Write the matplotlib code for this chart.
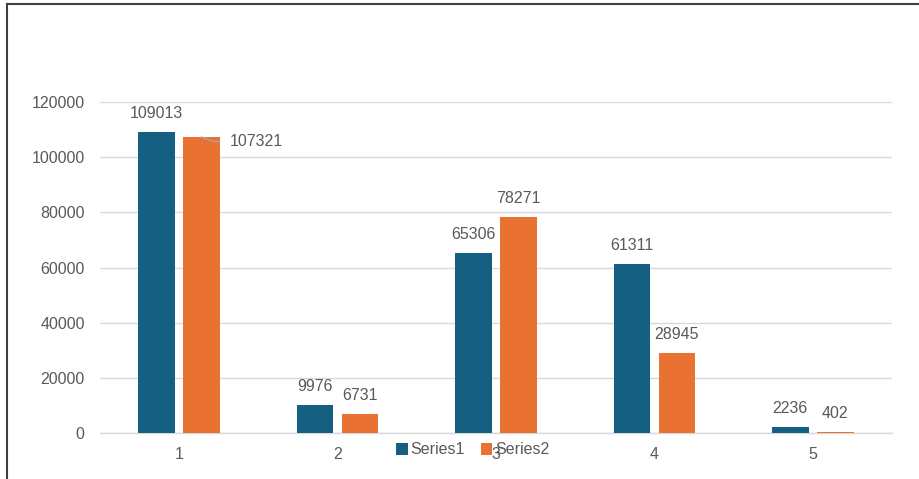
import numpy as np
import matplotlib.pyplot as plt
from matplotlib.lines import Line2D

plt.rcParams['font.family'] = ['Liberation Sans', 'DejaVu Sans']

categories = ['1', '2', '3', '4', '5']
series1 = [109013, 9976, 65306, 61311, 2236]
series2 = [107321, 6731, 78271, 28945, 402]
yticks = [0, 20000, 40000, 60000, 80000, 100000, 120000]

c1 = '#156082'
c2 = '#E97132'
txt = '#595959'
fs = 11.5

fig = plt.figure(figsize=(9.19, 4.79), dpi=100)
ax = fig.add_axes([100 / 919, 1 - 433 / 479, 792 / 919, 331 / 479])

x = np.arange(len(categories))
w = 0.23
b1 = ax.bar(x - 0.142, series1, w, color=c1, label='Series1', zorder=3)
b2 = ax.bar(x + 0.142, series2, w, color=c2, label='Series2', zorder=3)

ax.set_xlim(-0.5, len(categories) - 0.5)
ax.set_ylim(0, 120000)
ax.set_yticks(yticks)
ax.set_yticklabels([str(v) for v in yticks])
ax.set_xticks(x)
ax.set_xticklabels(categories)
ax.tick_params(axis='both', length=0, labelsize=fs, labelcolor=txt)
ax.tick_params(axis='y', pad=11)
ax.tick_params(axis='x', pad=10)
ax.grid(axis='y', color='#d9d9d9', linewidth=1, zorder=0)
for s in ['top', 'right', 'left']:
    ax.spines[s].set_visible(False)
ax.spines['bottom'].set_color('#d9d9d9')
ax.spines['bottom'].set_linewidth(1)

# data labels
for xi, v in zip(x - 0.142, series1):
    ax.annotate(str(v), (xi, v), xytext=(0, 13.5), textcoords='offset points',
                ha='center', va='center', fontsize=fs, color=txt)
for i, (xi, v) in enumerate(zip(x + 0.142, series2)):
    if i == 0:
        # label pushed to the right with a leader line
        ax.annotate(str(v), (xi, v), xytext=(20, -3.4), textcoords='offset points',
                    ha='left', va='center', fontsize=fs, color=txt,
                    arrowprops=dict(arrowstyle='-', color='#a6a6a6', lw=1,
                                    shrinkA=5, shrinkB=0, relpos=(0, 0.5),
                                    connectionstyle='arc3,rad=-0.15'))
    else:
        ax.annotate(str(v), (xi, v), xytext=(0, 13.5), textcoords='offset points',
                    ha='center', va='center', fontsize=fs, color=txt)

fig.legend(handles=[b1, b2], labels=['Series1', 'Series2'], loc='center',
           bbox_to_anchor=(473 / 919, 1 - 450 / 479), ncol=2, frameon=False,
           fontsize=fs, labelcolor=txt, handlelength=0.7, handleheight=0.7,
           handletextpad=0.2, columnspacing=1.0)

# outer frame (top and left edges only)
fig.add_artist(Line2D([7 / 919, 1], [1 - 3.5 / 479, 1 - 3.5 / 479],
                      transform=fig.transFigure, color='#404040', lw=1.5))
fig.add_artist(Line2D([7 / 919, 7 / 919], [0, 1 - 3.5 / 479],
                      transform=fig.transFigure, color='#404040', lw=1.5))

fig.savefig('out.png', dpi=100)
